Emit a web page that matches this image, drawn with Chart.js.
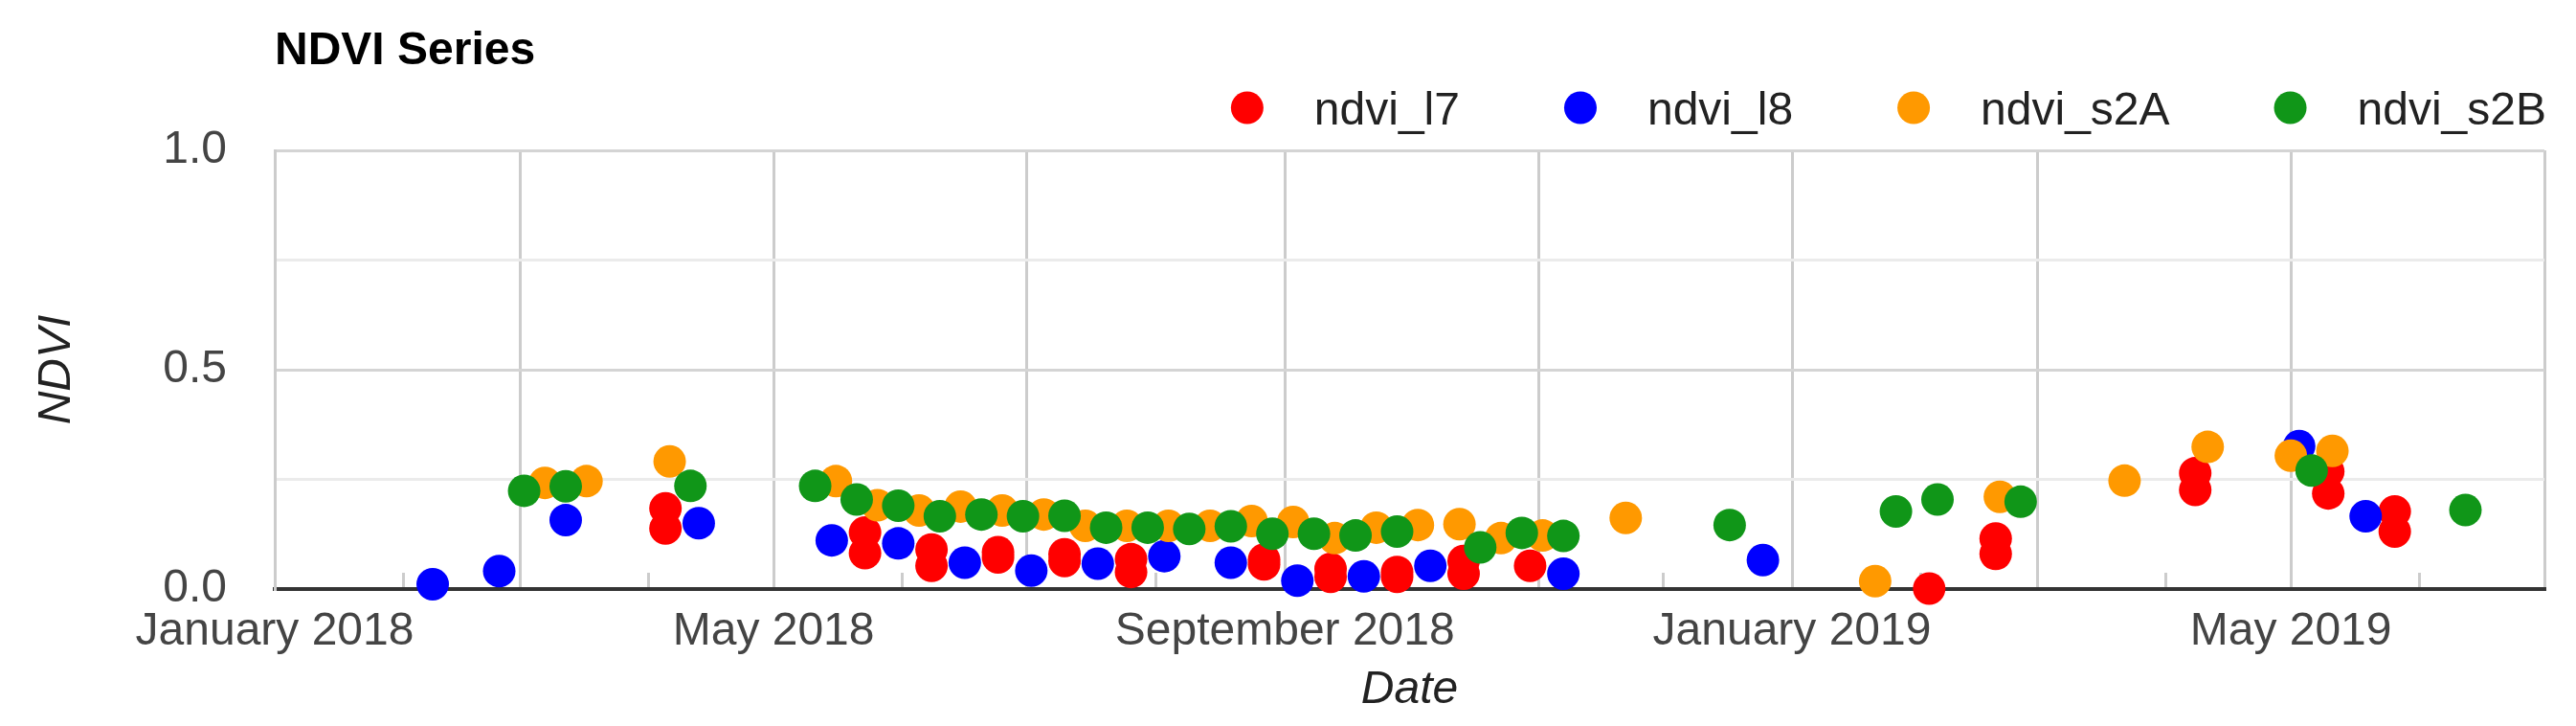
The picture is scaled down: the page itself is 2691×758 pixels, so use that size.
<!DOCTYPE html>
<html>
<head>
<meta charset="utf-8">
<title>NDVI Series</title>
<script src="https://cdn.jsdelivr.net/npm/chart.js@4/dist/chart.umd.min.js"></script>
<style>
  html, body { margin: 0; padding: 0; background: #fff; }
  #wrap { width: 2691px; height: 758px; }
</style>
</head>
<body>
<div id="wrap"><canvas id="ndviChart" width="2691" height="758"></canvas></div>
<script>
const chartTitle = 'NDVI Series';

// tick positions / labels
const monthTicks = ['2018-01-01', '2018-02-01', '2018-03-01', '2018-04-01', '2018-05-01', '2018-06-01',
  '2018-07-01', '2018-08-01', '2018-09-01', '2018-10-01', '2018-11-01', '2018-12-01',
  '2019-01-01', '2019-02-01', '2019-03-01', '2019-04-01', '2019-05-01', '2019-06-01', '2019-07-01'];
const monthLabels = ['January 2018', '', '', '', 'May 2018', '', '', '', 'September 2018', '', '', '',
  'January 2019', '', '', '', 'May 2019', '', ''];
const yTicks = [0, 0.25, 0.5, 0.75, 1];
const yLabels = ['0.0', '', '0.5', '', '1.0'];

// ndvi_l7
const l7Dates = ['2018-04-05', '2018-04-05', '2018-05-23', '2018-05-23', '2018-06-08', '2018-06-08',
  '2018-06-24', '2018-06-24', '2018-07-10', '2018-07-10', '2018-07-26', '2018-07-26',
  '2018-08-27', '2018-08-27', '2018-09-12', '2018-09-12', '2018-09-28', '2018-09-28',
  '2018-10-14', '2018-10-14', '2018-10-30', '2019-02-03', '2019-02-19', '2019-02-19',
  '2019-04-08', '2019-04-08', '2019-05-10', '2019-05-10', '2019-05-26', '2019-05-26'];
const l7Values = [0.184, 0.138, 0.129, 0.082, 0.090, 0.053,
  0.084, 0.072, 0.079, 0.064, 0.068, 0.039,
  0.067, 0.056, 0.046, 0.028, 0.039, 0.028,
  0.064, 0.035, 0.053, 0.001, 0.115, 0.080,
  0.264, 0.226, 0.268, 0.218, 0.177, 0.131];

// ndvi_l8
const l8Dates = ['2018-02-08', '2018-02-24', '2018-03-12', '2018-04-13', '2018-05-15', '2018-05-31',
  '2018-06-16', '2018-07-02', '2018-07-18', '2018-08-03', '2018-08-19', '2018-09-04',
  '2018-09-20', '2018-10-06', '2018-11-07', '2018-12-25', '2019-05-03', '2019-05-19'];
const l8Values = [0.011, 0.041, 0.157, 0.150, 0.111, 0.104,
  0.060, 0.042, 0.058, 0.075, 0.060, 0.019,
  0.029, 0.053, 0.035, 0.066, 0.326, 0.166];

// ndvi_s2A
const s2aDates = ['2018-03-07', '2018-03-17', '2018-04-06', '2018-05-16', '2018-05-26', '2018-06-05',
  '2018-06-15', '2018-06-25', '2018-07-05', '2018-07-15', '2018-07-25', '2018-08-04',
  '2018-08-14', '2018-08-24', '2018-09-03', '2018-09-13', '2018-09-23', '2018-10-03',
  '2018-10-13', '2018-10-23', '2018-11-02', '2018-11-22', '2019-01-21', '2019-02-20',
  '2019-03-22', '2019-04-11', '2019-05-01', '2019-05-11'];
const s2aValues = [0.242, 0.246, 0.291, 0.246, 0.191, 0.179,
  0.188, 0.179, 0.170, 0.144, 0.144, 0.144,
  0.144, 0.155, 0.153, 0.116, 0.140, 0.146,
  0.148, 0.116, 0.122, 0.162, 0.018, 0.210,
  0.247, 0.324, 0.304, 0.315];

// ndvi_s2B
const s2bDates = ['2018-03-02', '2018-03-12', '2018-04-11', '2018-05-11', '2018-05-21', '2018-05-31',
  '2018-06-10', '2018-06-20', '2018-06-30', '2018-07-10', '2018-07-20', '2018-07-30',
  '2018-08-09', '2018-08-19', '2018-08-29', '2018-09-08', '2018-09-18', '2018-09-28',
  '2018-10-18', '2018-10-28', '2018-11-07', '2018-12-17', '2019-01-26', '2019-02-05',
  '2019-02-25', '2019-05-06', '2019-06-12'];
const s2bValues = [0.224, 0.234, 0.235, 0.235, 0.204, 0.190,
  0.166, 0.170, 0.166, 0.167, 0.140, 0.140,
  0.137, 0.143, 0.126, 0.126, 0.122, 0.131,
  0.095, 0.128, 0.121, 0.146, 0.177, 0.204,
  0.199, 0.270, 0.180];

const FONT = 'Arial, "Liberation Sans", sans-serif';

function toPoints(dates, values) {
  return dates.map((d, i) => ({ x: Date.parse(d), y: values[i] }));
}

function series(label, dates, values, color, order) {
  return {
    label: label,
    data: toPoints(dates, values),
    backgroundColor: color,
    borderWidth: 0,
    pointRadius: 17,
    pointHoverRadius: 17,
    order: order, // s2B drawn last (on top), l7 first
    clip: false
  };
}

// title + legend, drawn above the plot
const headerPlugin = {
  id: 'header',
  afterDraw(chart) {
    const ctx = chart.ctx;
    const area = chart.chartArea;
    ctx.save();
    ctx.textBaseline = 'alphabetic';
    ctx.textAlign = 'left';
    ctx.font = 'bold 48px ' + FONT;
    ctx.fillStyle = '#000';
    ctx.fillText(chartTitle, area.left, 67);

    ctx.font = '48px ' + FONT;
    let x = area.right + 2;
    const sets = chart.data.datasets;
    for (let i = sets.length - 1; i >= 0; i--) {
      const w = ctx.measureText(sets[i].label).width;
      x -= w;
      ctx.fillStyle = '#222';
      ctx.fillText(sets[i].label, x, 130);
      const cx = x - 70;
      ctx.fillStyle = sets[i].backgroundColor;
      ctx.beginPath();
      ctx.arc(cx, 112.5, 17, 0, Math.PI * 2);
      ctx.fill();
      x = cx - 126;
    }
    ctx.restore();
  }
};

const ctx = document.getElementById('ndviChart').getContext('2d');
const ndviChart = new Chart(ctx, {
  type: 'scatter',
  data: {
    datasets: [
      series('ndvi_l7', l7Dates, l7Values, '#ff0000', 4),
      series('ndvi_l8', l8Dates, l8Values, '#0000ff', 3),
      series('ndvi_s2A', s2aDates, s2aValues, '#ff9900', 2),
      series('ndvi_s2B', s2bDates, s2bValues, '#109618', 1)
    ]
  },
  options: {
    responsive: false,
    animation: false,
    devicePixelRatio: 1,
    events: [],
    layout: { padding: { top: 157, right: 24, left: 0, bottom: 0 } },
    plugins: {
      legend: { display: false },
      title: { display: false },
      tooltip: { enabled: false }
    },
    scales: {
      x: {
        type: 'linear',
        min: Date.parse(monthTicks[0]),
        max: Date.parse(monthTicks[monthTicks.length - 1]),
        afterBuildTicks: (scale) => {
          scale.ticks = monthTicks.map(d => ({ value: Date.parse(d) }));
        },
        afterFit: (scale) => { scale.height = 143; },
        ticks: {
          autoSkip: false,
          maxRotation: 0,
          minRotation: 0,
          padding: 33,
          color: '#444',
          font: { family: FONT, size: 48 },
          callback: (value, index) => monthLabels[index]
        },
        grid: {
          // full lines every other month, short marks inside the plot for the rest
          color: (c) => (c.index % 2 === 0 ? '#cccccc' : 'rgba(0,0,0,0)'),
          tickColor: '#cccccc',
          lineWidth: 3,
          drawTicks: true,
          tickLength: -17
        },
        border: { color: '#333333', width: 4 },
        title: {
          display: true,
          text: 'Date',
          color: '#222',
          font: { family: FONT, size: 48, style: 'italic' },
          padding: { top: 0, bottom: 9 }
        }
      },
      y: {
        min: 0,
        max: 1,
        afterBuildTicks: (scale) => {
          scale.ticks = yTicks.map(v => ({ value: v }));
        },
        afterFit: (scale) => { scale.width = 287; },
        ticks: {
          padding: 50,
          color: '#444',
          font: { family: FONT, size: 48 },
          callback: (value, index) => yLabels[index]
        },
        grid: {
          color: (c) => (c.index % 2 === 0 ? '#d4d4d4' : '#ebebeb'),
          lineWidth: 3,
          drawTicks: false
        },
        border: { color: '#cccccc', width: 3 },
        title: {
          display: true,
          text: 'NDVI',
          color: '#222',
          font: { family: FONT, size: 48, style: 'italic' },
          padding: { top: 31, bottom: 0 }
        }
      }
    }
  },
  plugins: [headerPlugin]
});
</script>
</body>
</html>
